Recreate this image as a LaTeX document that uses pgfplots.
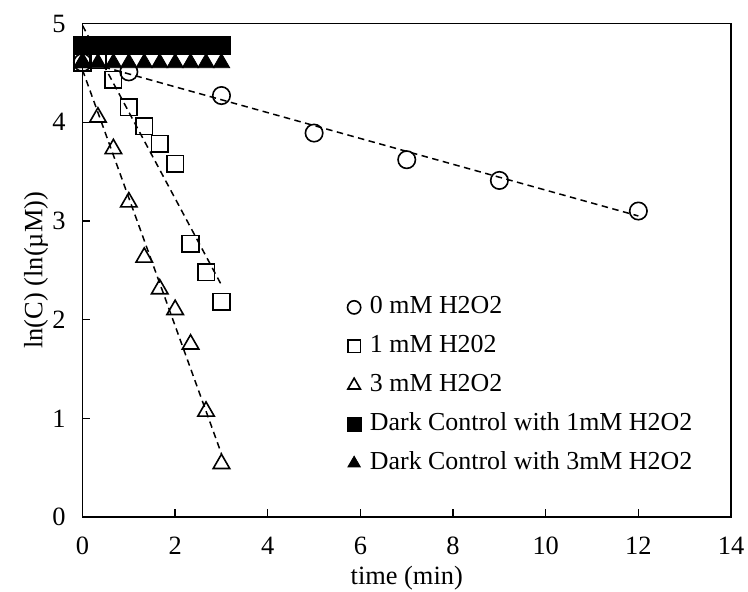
\documentclass[border=0pt]{standalone}
\usepackage{fontspec}
\setmainfont{Liberation Serif}
\usepackage{pgfplots}
\pgfplotsset{compat=1.18}
\begin{document}
\fontsize{26.4bp}{31bp}\selectfont
\begin{tikzpicture}
\useasboundingbox (-82.5bp,-75bp) rectangle (665.5bp,517bp);
\begin{axis}[
  at={(0,0)}, anchor=south west, scale only axis,
  width=648.5bp, height=493.5bp,
  xmin=0, xmax=14, ymin=0, ymax=5,
  xtick={0,2,...,14}, ytick={0,1,...,5},
  tick align=inside, major tick length=8bp, tick pos=left,
  axis line style={line width=1.6bp},
  major tick style={line width=1.3bp, black},
  /pgf/number format/assume math mode=true,
  ticklabel style={font=\fontsize{26.4bp}{31bp}\selectfont},
  xticklabel style={anchor=base, yshift=-37bp},
  yticklabel style={anchor=east, xshift=-8bp},
  label style={font=\fontsize{26.4bp}{31bp}\selectfont},
  every axis x label/.style={at={(axis description cs:0.5,-0.1236)}, anchor=center},
  every axis y label/.style={at={(axis description cs:-0.0717,0.5)}, rotate=90, anchor=center},
  xlabel={time (min)},
  ylabel={ln(C) (ln(µM))},
  legend style={draw=none, fill=none, inner sep=0pt,
    at={(axis description cs:0.408,0.4505)}, anchor=north west,
    font=\fontsize{25.9bp}{31bp}\selectfont,
    nodes={inner sep=0pt, text height=19bp, text depth=6bp},
    row sep=14bp, column sep=9bp},
  legend cell align=left,
  legend image code/.code={\draw[#1, every mark/.append style={scale=0.76}] plot coordinates {(0bp,0bp)};},
]
% data series
\addplot[only marks, black, mark=o, mark size=8.7bp, mark options={line width=1.6bp, solid}]
  coordinates {(0,4.605) (1,4.51) (3,4.27) (5,3.89) (7,3.62) (9,3.41) (12,3.10)};
\addlegendentry{0 mM H2O2}
\addplot[only marks, black, mark=square, mark size=8.3bp, mark options={line width=1.6bp, solid}]
  coordinates {(0,4.605) (0.333,4.63) (0.667,4.43) (1,4.15) (1.333,3.96) (1.667,3.78) (2,3.58) (2.333,2.77) (2.667,2.48) (3,2.18)};
\addlegendentry{1 mM H202}
\addplot[only marks, black, mark=triangle, mark size=9.5bp, mark options={line width=1.6bp, solid}]
  coordinates {(0,4.605) (0.333,4.05) (0.667,3.73) (1,3.19) (1.333,2.63) (1.667,2.31) (2,2.10) (2.333,1.75) (2.667,1.07) (3,0.54)};
\addlegendentry{3 mM H2O2}
\addplot[only marks, black, mark=square*, mark size=9bp, mark options={line width=0.8bp, solid, fill=black}]
  coordinates {(0,4.777) (0.333,4.777) (0.667,4.777) (1,4.777) (1.333,4.777) (1.667,4.777) (2,4.777) (2.333,4.777) (2.667,4.777) (3,4.777)};
\addlegendentry{Dark Control with 1mM H2O2}
\addplot[only marks, black, mark=triangle*, mark size=9.5bp, mark options={line width=0.8bp, solid, fill=black}]
  coordinates {(0,4.60) (0.333,4.60) (0.667,4.60) (1,4.60) (1.333,4.60) (1.667,4.60) (2,4.60) (2.333,4.60) (2.667,4.60) (3,4.60)};
\addlegendentry{Dark Control with 3mM H2O2}
% trendlines
\addplot[black, line width=1.5bp, dash pattern=on 6.5bp off 4.5bp, forget plot] coordinates {(0,4.62) (12,3.05)};
\addplot[black, line width=1.5bp, dash pattern=on 6.5bp off 4.5bp, forget plot] coordinates {(0,4.98) (3,2.35)};
\addplot[black, line width=1.5bp, dash pattern=on 6.5bp off 4.5bp, forget plot] coordinates {(0,4.53) (3,0.64)};
\end{axis}
\end{tikzpicture}
\end{document}
